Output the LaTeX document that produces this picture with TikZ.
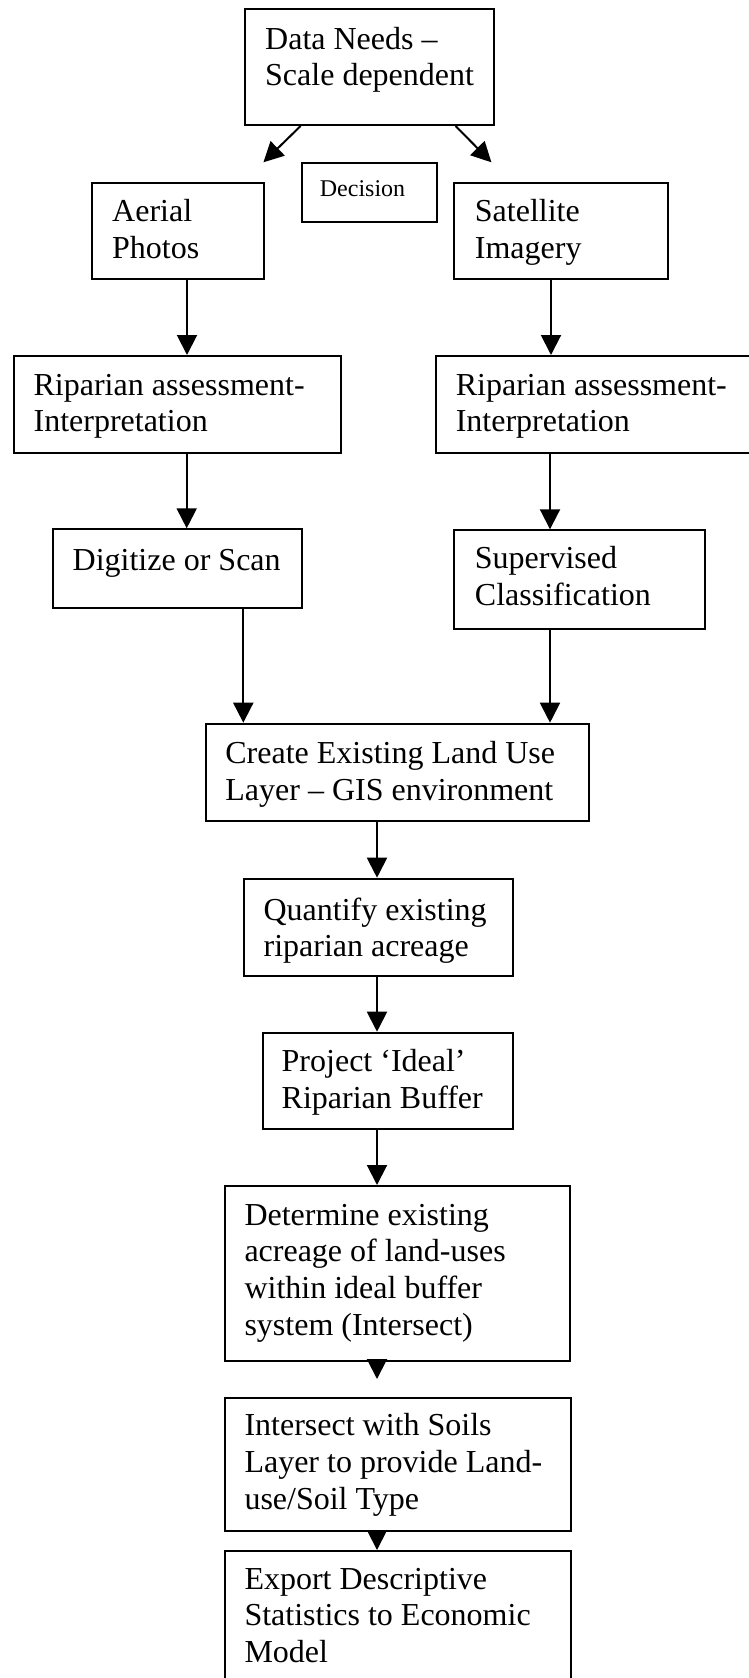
\documentclass[tikz,border=0pt]{standalone}
\usepackage{fontspec}
\setmainfont{Liberation Serif}
\usetikzlibrary{arrows.meta}
\newcommand{\fl}{\rule{0pt}{24pt}}
\begin{document}
\begin{tikzpicture}[x=1pt,y=-1pt,
  box/.style={draw,line width=2pt,inner sep=0pt,anchor=north west},
  txt/.style={anchor=north west,inner sep=0pt,align=left,font=\fontsize{32}{36.7}\selectfont},
  arr/.style={line width=2pt,-{Triangle[length=20pt,width=20pt]}}]
\useasboundingbox (0,0) rectangle (748,1678);
% boxes
\node[box,minimum width=249pt,minimum height=116pt] (data) at (244,8) {};
\node[box,minimum width=135pt,minimum height=58.4pt] (dec) at (300.6,162.3) {};
\node[box,minimum width=172.8pt,minimum height=96.6pt] (aerial) at (90.6,181.7) {};
\node[box,minimum width=213.5pt,minimum height=96.6pt] (sat) at (453,181.7) {};
\node[box,minimum width=326.3pt,minimum height=96.7pt] (rip1) at (13.4,355) {};
\node[box,minimum width=320pt,minimum height=96.7pt] (rip2) at (435,355) {};
\node[box,minimum width=249.1pt,minimum height=79pt] (dig) at (51.5,528.3) {};
\node[box,minimum width=250.7pt,minimum height=98.4pt] (sup) at (453,529.3) {};
\node[box,minimum width=383.3pt,minimum height=97.3pt] (create) at (205,722.7) {};
\node[box,minimum width=268.2pt,minimum height=97.3pt] (quant) at (243.3,877.7) {};
\node[box,minimum width=250pt,minimum height=96.6pt] (proj) at (261.5,1031.7) {};
\node[box,minimum width=344.5pt,minimum height=175pt] (det) at (224.2,1185) {};
\node[box,minimum width=345.5pt,minimum height=132.7pt] (inter) at (224.2,1397.3) {};
\node[box,minimum width=345.5pt,minimum height=140pt] (export) at (224.2,1550) {};
% texts (first baseline = y + 24)
\node[txt] (data-t) at (265,25) {\fl Data Needs –\\Scale dependent};
\node[txt,font=\fontsize{24}{28}\selectfont] (dec-t) at (319.7,172) {\fl Decision};
\node[txt] (aerial-t) at (112,197.7) {\fl Aerial\\Photos};
\node[txt] (sat-t) at (474.7,197.7) {\fl Satellite\\Imagery};
\node[txt] (rip1-t) at (33.4,371) {\fl Riparian assessment-\\Interpretation};
\node[txt] (rip2-t) at (455.6,371) {\fl Riparian assessment-\\Interpretation};
\node[txt] (dig-t) at (72.5,546) {\fl Digitize or Scan};
\node[txt] (sup-t) at (474.7,544.3) {\fl Supervised\\Classification};
\node[txt] (create-t) at (225.2,739.5) {\fl Create Existing Land Use\\Layer – GIS environment};
\node[txt] (quant-t) at (263.4,896) {\fl Quantify existing\\riparian acreage};
\node[txt] (proj-t) at (281.5,1047.7) {\fl Project ‘Ideal’\\Riparian Buffer};
\node[txt] (det-t) at (244.3,1201) {\fl Determine existing\\acreage of land-uses\\within ideal buffer\\system (Intersect)};
\node[txt] (inter-t) at (244.3,1411.5) {\fl Intersect with Soils\\Layer to provide Land-\\use/Soil Type};
\node[txt] (export-t) at (244.3,1565) {\fl Export Descriptive\\Statistics to Economic\\Model};
% free arrow ends
\coordinate (tipL) at (263.4,162.3);
\coordinate (tipR) at (491.4,162.3);
\coordinate (tipD) at (377,1379);
% connectors
\draw[arr] (300.6,0 |- data.south) -- (tipL);
\draw[arr] (455.6,0 |- data.south) -- (tipR);
\draw[arr] (187,0 |- aerial.south) -- (187,0 |- rip1.north);
\draw[arr] (551,0 |- sat.south) -- (551,0 |- rip2.north);
\draw[arr] (186.7,0 |- rip1.south) -- (186.7,0 |- dig.north);
\draw[arr] (550,0 |- rip2.south) -- (550,0 |- sup.north);
\draw[arr] (243.3,0 |- dig.south) -- (243.3,0 |- create.north);
\draw[arr] (550,0 |- sup.south) -- (550,0 |- create.north);
\draw[arr] (377,0 |- create.south) -- (377,0 |- quant.north);
\draw[arr] (377,0 |- quant.south) -- (377,0 |- proj.north);
\draw[arr] (377,0 |- proj.south) -- (377,0 |- det.north);
\draw[arr] (377,0 |- det.south) -- (tipD);
\draw[arr] (377,0 |- inter.south) -- (377,0 |- export.north);
\end{tikzpicture}
\end{document}
